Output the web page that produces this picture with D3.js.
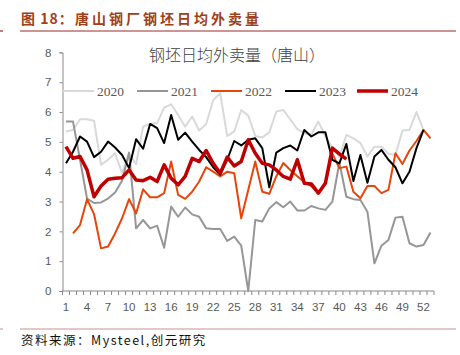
<!DOCTYPE html>
<html><head><meta charset="utf-8">
<script src="https://cdn.jsdelivr.net/npm/d3@7"></script>
<style>
html,body{margin:0;padding:0;background:#fff;}
svg{display:block;}
</style></head>
<body>
<svg id="c" width="460" height="355"></svg>
<script>
const weeks = d3.range(1, 54);
const tickWeeks = [1,4,7,10,13,16,19,22,25,28,31,34,37,40,43,46,49,52];
const yTicks = [0,1,2,3,4,5,6,7,8];
const seriesNames = ["2020","2021","2022","2023","2024"];
const s2020 = [5.35,5.4,5.76,5.76,5.71,4.23,4.4,4.62,3.95,4.6,4.25,5.51,5.6,5.63,6.15,6.26,5.9,5.51,5.85,5.38,5.6,6.4,6.63,5.2,5.35,6.07,5.88,5.2,5.15,5.32,6.02,6.07,5.75,5.43,5.29,5.25,5.68,5.18,4.8,4.5,5.23,5.12,4.96,4.51,4.84,4.84,4.6,4.56,5.38,5.4,6.0,5.4];
const s2021 = [5.68,5.68,4.4,3.1,2.95,2.97,3.1,3.3,3.7,4.64,2.1,2.38,2.1,2.19,1.45,2.83,2.49,2.8,2.57,2.49,2.1,2.08,2.08,1.68,1.82,1.52,0.0,2.38,2.33,2.77,2.98,2.81,3.0,2.7,2.7,2.85,2.77,2.72,3.0,4.3,3.16,3.08,3.05,2.66,0.93,1.52,1.71,2.46,2.49,1.6,1.49,1.54,1.96];
const s2022 = [null,1.93,2.21,3.08,2.58,1.43,1.49,1.93,2.44,3.08,2.6,3.41,3.14,3.14,3.28,4.34,3.22,3.09,3.33,3.67,4.15,4.0,3.84,4.0,3.95,2.44,3.39,4.34,3.33,3.26,3.84,4.29,4.06,3.85,3.65,3.52,3.28,3.61,4.6,4.12,4.17,3.33,3.11,3.52,3.52,3.28,3.39,4.62,4.26,4.71,5.03,5.4,5.12];
const s2023 = [4.28,4.67,5.18,5.01,4.49,4.67,5.01,4.81,4.56,4.12,5.09,4.77,5.6,5.46,4.96,5.9,5.07,5.31,5.01,4.73,4.49,4.15,3.9,4.4,5.03,4.88,5.07,5.12,4.79,3.48,4.64,4.79,4.88,4.71,5.4,5.18,5.32,5.32,4.4,4.28,4.93,3.69,4.56,3.63,4.51,4.73,4.4,4.15,3.61,4.0,4.79,5.4];
const s2024 = [4.84,4.45,4.51,4.06,3.16,3.52,3.75,3.78,3.8,4.06,3.72,3.7,3.81,3.67,4.23,3.78,3.56,3.84,4.45,4.34,4.71,4.28,3.95,4.49,4.19,4.34,5.07,4.62,4.28,4.23,4.06,3.84,3.75,4.4,3.61,3.59,3.28,3.61,4.79,4.6,4.42];
const seriesValues = [s2020, s2021, s2022, s2023, s2024];
const colors = ["#d9d9d9","#969696","#e8450a","#000000","#c00000"];
const widths = [2,2,2,2,3.5];

const svg = d3.select("#c");
const x = d3.scaleBand().domain(weeks).range([62.5, 434]).padding(0);
const y = d3.scaleLinear().domain([0, 8]).range([291, 52.4]);
const cx = w => x(w) + x.bandwidth()/2;

// Title
const tFont = "'Noto Sans CJK SC', sans-serif";
svg.append("text").attr("x", 21).attr("y", 24)
  .attr("font-family", tFont).attr("font-weight", 700)
  .attr("font-size", 14).attr("letter-spacing", 1).attr("fill", "#a0401a")
  .text("图 18：");
svg.append("text").attr("x", 75).attr("y", 24)
  .attr("font-family", tFont).attr("font-weight", 700)
  .attr("font-size", 14).attr("letter-spacing", 3.0).attr("fill", "#a0401a")
  .text("唐山钢厂钢坯日均外卖量");
svg.append("line").attr("x1", 20).attr("x2", 456).attr("y1", 31).attr("y2", 31)
  .attr("stroke", "#9b2a2a").attr("stroke-width", 1.2);
svg.append("line").attr("x1", 0).attr("x2", 3).attr("y1", 31).attr("y2", 31)
  .attr("stroke", "#9b2a2a").attr("stroke-width", 1.2);
svg.append("line").attr("x1", 20).attr("x2", 456).attr("y1", 329).attr("y2", 329)
  .attr("stroke", "#c99090").attr("stroke-width", 1);
svg.append("line").attr("x1", 0).attr("x2", 3).attr("y1", 329).attr("y2", 329)
  .attr("stroke", "#c99090").attr("stroke-width", 1);

// Chart title
svg.append("text").attr("x", 237).attr("y", 61).attr("text-anchor", "middle")
  .attr("font-family", tFont).attr("font-weight", 300)
  .attr("font-size", 16).attr("fill", "#404040")
  .text("钢坯日均外卖量（唐山）");

// Y axis
const yAxis = d3.axisLeft(y).tickValues(yTicks).tickSize(3).tickPadding(8).tickFormat(d3.format("d"));
const gy = svg.append("g").attr("transform", "translate(62.5,0)").call(yAxis);
gy.select(".domain").attr("stroke", "#898989");
gy.selectAll(".tick line").attr("stroke", "#898989");
gy.selectAll("text").attr("font-family", "'Liberation Sans', Arial, sans-serif").attr("font-size", 11.5).attr("fill", "#595959");

// X axis
const gx = svg.append("g").attr("transform", "translate(0,291)");
gx.append("line").attr("x1", 62.5).attr("x2", 434).attr("y1", 0).attr("y2", 0).attr("stroke", "#898989");
const bounds = weeks.map(w => x(w)).concat([x(53) + x.bandwidth()]);
gx.selectAll("line.t").data(bounds).enter().append("line").attr("class","t")
  .attr("x1", d => d).attr("x2", d => d).attr("y1", 0).attr("y2", 4).attr("stroke", "#898989");
gx.selectAll("text").data(tickWeeks).enter().append("text")
  .attr("x", d => cx(d)).attr("y", 20).attr("text-anchor", "middle")
  .attr("font-family", "'Liberation Sans', Arial, sans-serif").attr("font-size", 11.5).attr("fill", "#595959")
  .text(d => d);

// Lines
const line = d3.line().defined(d => d.v != null).x(d => cx(d.w)).y(d => y(d.v));
seriesValues.forEach((vals, i) => {
  const data = vals.map((v, j) => ({w: weeks[j], v}));
  svg.append("path").datum(data).attr("d", line).attr("fill", "none")
    .attr("stroke", colors[i]).attr("stroke-width", widths[i]).attr("stroke-linejoin", "round");
});

// Legend
const legX = [63, 137, 211, 285, 357];
seriesNames.forEach((n, i) => {
  svg.append("line").attr("x1", legX[i]).attr("x2", legX[i] + 31).attr("y1", 91).attr("y2", 91)
    .attr("stroke", colors[i]).attr("stroke-width", widths[i]);
  svg.append("text").attr("x", legX[i] + 34).attr("y", 95.5)
    .attr("font-family", "'Liberation Serif', 'Times New Roman', serif").attr("font-size", 13.5).attr("fill", "#595959")
    .text(n);
});

// Source
svg.append("text").attr("x", 21).attr("y", 345)
  .attr("font-family", tFont).attr("font-size", 12.5).attr("letter-spacing", 1.5).attr("fill", "#111")
  .text("资料来源：Mysteel,创元研究");
</script>
</body></html>
